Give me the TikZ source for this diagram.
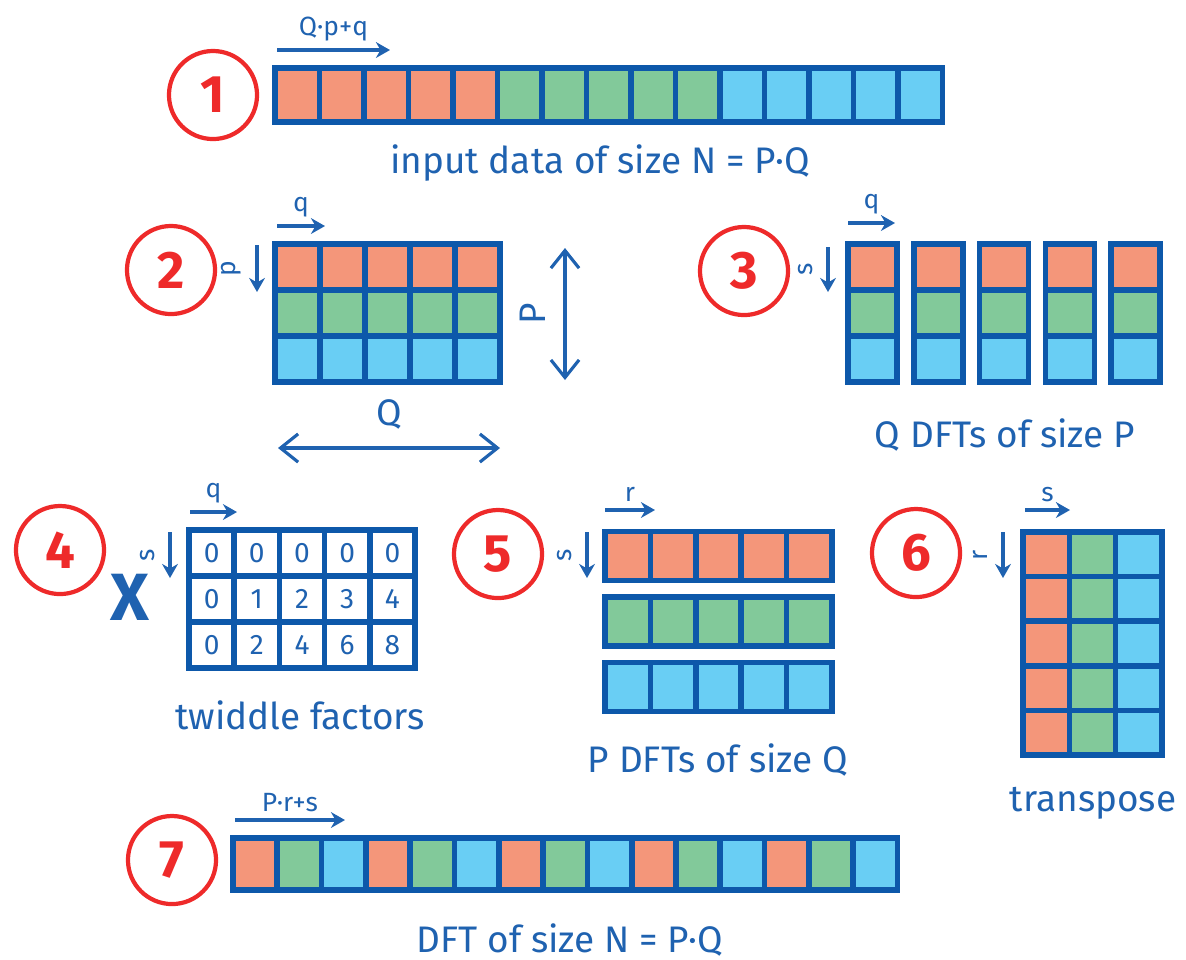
\documentclass[tikz,border=0pt]{standalone}
\usepackage{fontspec}
\setmainfont{Fira Sans}
\usetikzlibrary{arrows.meta, positioning}

\definecolor{cellorange}{HTML}{F4967A}
\definecolor{cellgreen}{HTML}{82C99A}
\definecolor{cellblue}{HTML}{69CEF4}
\definecolor{edgeblue}{HTML}{0D58AA}
\definecolor{inkblue}{HTML}{1F62B0}
\definecolor{markred}{HTML}{EE2A2A}

\begin{document}
\begin{tikzpicture}[
    x=0.01cm, y=-0.01cm,
    cell/.style={rectangle, draw=edgeblue, line width=1.6pt, inner sep=0pt, outer sep=0pt},
    stepnum/.style={circle, draw=markred, line width=1.2pt, minimum size=0.88cm, inner sep=0pt, text=markred, font=\fontsize{15}{15}\selectfont\bfseries},
    caption/.style={text=inkblue, font=\fontsize{10.5}{12}\selectfont},
    idx/.style={text=inkblue, font=\fontsize{7.5}{8}\selectfont},
    arrow/.style={-{Stealth[length=4pt, width=4.5pt]}, draw=inkblue, line width=0.9pt},
    span/.style={{Straight Barb[length=5pt, width=8pt]}-{Straight Barb[length=5pt, width=8pt]}, draw=inkblue, line width=0.9pt}
]
\useasboundingbox (0,0) rectangle (1186,959);

% 1: input data
\node[stepnum] (n1) at (213,95) {1};
\foreach \c [count=\j] in {cellorange, cellgreen, cellblue}
  \foreach \i in {1,...,5}
    \node[cell, fill=\c, minimum width=0.445cm, minimum height=0.54cm] (a-\j-\i) at ({275+44.5*(5*(\j-1)+\i-0.5)}, 95) {};
\coordinate (qp1) at (277,50);
\coordinate (qp2) at (390,50);
\draw[arrow] (qp1) -- node[idx, above, inner sep=2pt] {Q·p+q} (qp2);
\node[caption] (cap1) at (600,163) {input data of size N = P·Q};

% 2: P x Q matrix
\node[stepnum] (n2) at (171,270) {2};
\foreach \c [count=\j] in {cellorange, cellgreen, cellblue}
  \foreach \i in {1,...,5}
    \node[cell, fill=\c, minimum width=0.45cm, minimum height=0.46cm] (b-\j-\i) at ({275+45*(\i-0.5)}, {244+46*(\j-0.5)}) {};
\coordinate (bq1) at (277,226);
\coordinate (bq2) at (325,226);
\draw[arrow] (bq1) -- node[idx, above, inner sep=2pt] {q} (bq2);
\coordinate (bp1) at (257,245);
\coordinate (bp2) at (257,292);
\draw[arrow] (bp1) -- node[idx, rotate=90, anchor=south, inner sep=4pt] {p} (bp2);
\coordinate (bP1) at (565,248);
\coordinate (bP2) at (565,380);
\draw[span] (bP1) -- node[caption, rotate=90, anchor=south, inner sep=5pt] {P} (bP2);
\coordinate (bQ1) at (278,448);
\coordinate (bQ2) at (500,448);
\draw[span] (bQ1) -- node[caption, above, inner sep=5pt] {Q} (bQ2);

% 3: columns
\node[stepnum] (n3) at (744,271) {3};
\foreach \c [count=\j] in {cellorange, cellgreen, cellblue}
  \foreach \i in {1,...,5}
    \node[cell, fill=\c, minimum width=0.49cm, minimum height=0.46cm] (c-\j-\i) at ({872.5+65.8*(\i-1)}, {244+46*(\j-0.5)}) {};
\coordinate (cq1) at (848,223);
\coordinate (cq2) at (895,223);
\draw[arrow] (cq1) -- node[idx, above, inner sep=2pt] {q} (cq2);
\coordinate (cs1) at (828,247);
\coordinate (cs2) at (828,292);
\draw[arrow] (cs1) -- node[idx, rotate=90, anchor=south, inner sep=4pt] {s} (cs2);
\node[caption] (cap3) at (1005,435) {Q DFTs of size P};

% 4: twiddle factors
\node[stepnum] (n4) at (60,550) {4};
\node[text=inkblue, font=\fontsize{19}{19}\selectfont\bfseries] (times) at (130,597) {X};
\foreach \j in {1,2,3}
  \foreach \i in {1,...,5} {
    \pgfmathtruncatemacro{\tw}{(\j-1)*(\i-1)}
    \node[cell, fill=white, minimum width=0.452cm, minimum height=0.46cm, text=inkblue, font=\fontsize{8}{9}\selectfont] (t-\j-\i) at ({189+45.2*(\i-0.5)}, {530+46*(\j-0.5)}) {\tw};
  }
\coordinate (tq1) at (190,512);
\coordinate (tq2) at (237,512);
\draw[arrow] (tq1) -- node[idx, above, inner sep=2pt] {q} (tq2);
\coordinate (ts1) at (170,532);
\coordinate (ts2) at (170,578);
\draw[arrow] (ts1) -- node[idx, rotate=90, anchor=south, inner sep=4pt] {s} (ts2);
\node[caption] (cap4) at (300,715) {twiddle factors};

% 5: rows
\node[stepnum] (n5) at (498,554) {5};
\foreach \c [count=\j] in {cellorange, cellgreen, cellblue}
  \foreach \i in {1,...,5}
    \node[cell, fill=\c, minimum width=0.454cm, minimum height=0.49cm] (d-\j-\i) at ({605+45.4*(\i-0.5)}, {556+65.5*(\j-1)}) {};
\coordinate (dr1) at (605,510);
\coordinate (dr2) at (655,510);
\draw[arrow] (dr1) -- node[idx, above, inner sep=2pt] {r} (dr2);
\coordinate (ds1) at (587,532);
\coordinate (ds2) at (587,578);
\draw[arrow] (ds1) -- node[idx, rotate=90, anchor=south, inner sep=4pt] {s} (ds2);
\node[caption] (cap5) at (718,760) {P DFTs of size Q};

% 6: transpose
\node[stepnum] (n6) at (916,553) {6};
\foreach \c [count=\i] in {cellorange, cellgreen, cellblue}
  \foreach \j in {1,...,5}
    \node[cell, fill=\c, minimum width=0.463cm, minimum height=0.446cm] (e-\j-\i) at ({1023+46.3*(\i-0.5)}, {532+44.6*(\j-0.5)}) {};
\coordinate (es1) at (1025,510);
\coordinate (es2) at (1070,510);
\draw[arrow] (es1) -- node[idx, above, inner sep=2pt] {s} (es2);
\coordinate (er1) at (1003,532);
\coordinate (er2) at (1003,578);
\draw[arrow] (er1) -- node[idx, rotate=90, anchor=south, inner sep=4pt] {r} (er2);
\node[caption] (cap6) at (1093,803) {transpose};

% 7: output
\node[stepnum] (n7) at (172,860) {7};
\foreach \i in {1,...,15} {
  \pgfmathtruncatemacro{\k}{mod(\i-1,3)}
  \ifcase\k \def\c{cellorange}\or \def\c{cellgreen}\else \def\c{cellblue}\fi
  \node[cell, fill=\c, minimum width=0.443cm, minimum height=0.52cm] (f-\i) at ({233+44.3*(\i-0.5)}, 864) {};
}
\coordinate (pr1) at (235,820);
\coordinate (pr2) at (345,820);
\draw[arrow] (pr1) -- node[idx, above, inner sep=2pt] {P·r+s} (pr2);
\node[caption] (cap7) at (570,940) {DFT of size N = P·Q};

\end{tikzpicture}
\end{document}
